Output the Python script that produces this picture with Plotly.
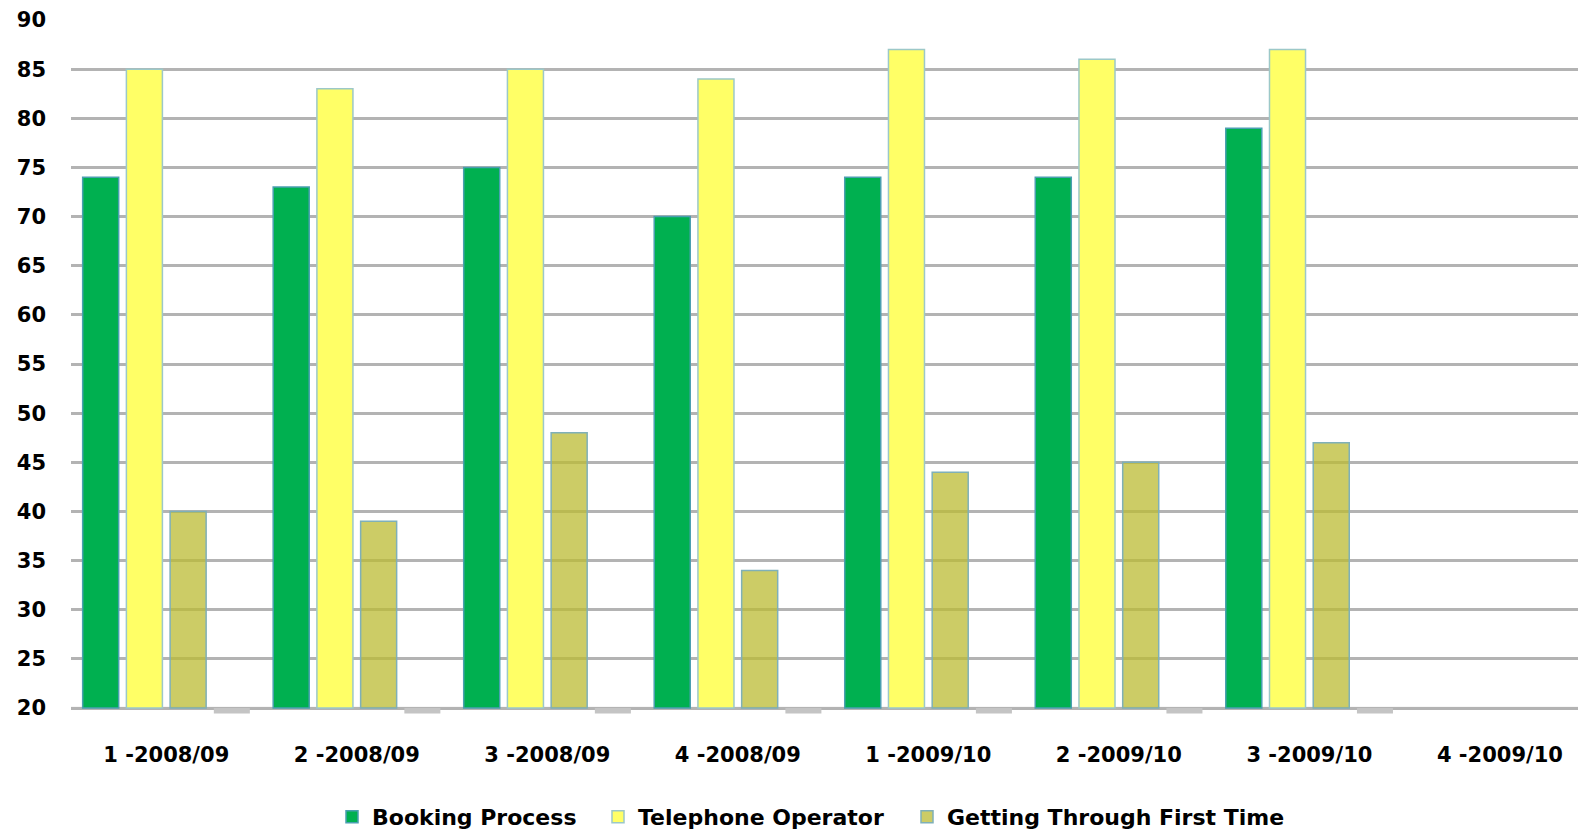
import plotly.graph_objects as go

categories = ["1 -2008/09", "2 -2008/09", "3 -2008/09", "4 -2008/09",
              "1 -2009/10", "2 -2009/10", "3 -2009/10", "4 -2009/10"]
booking_process = [74, 73, 75, 70, 74, 74, 79, None]
telephone_operator = [85, 83, 85, 84, 87, 86, 87, None]
getting_through = [40, 39, 48, 34, 44, 45, 47, None]
series4 = [19.45, 19.45, 19.45, 19.45, 19.45, 19.45, 19.45, None]
y_ticks = [20, 25, 30, 35, 40, 45, 50, 55, 60, 65, 70, 75, 80, 85, 90]
axis_min = 20


def from_axis(values):
    # Excel draws bars from the value axis crossing (the axis minimum)
    return [None if v is None else v - axis_min for v in values]


FONT = "DejaVu Sans"

fig = go.Figure()
fig.add_trace(go.Bar(name="Booking Process", x=categories, y=from_axis(booking_process),
                     base=axis_min, legend="legend",
                     marker=dict(color="#00b050", line=dict(color="#4a9fb0", width=1.5))))
fig.add_trace(go.Bar(name="Telephone Operator", x=categories, y=from_axis(telephone_operator),
                     base=axis_min, legend="legend2",
                     marker=dict(color="#ffff66", line=dict(color="#9cc8c8", width=1.5))))
fig.add_trace(go.Bar(name="Getting Through First Time", x=categories, y=from_axis(getting_through),
                     base=axis_min, legend="legend3",
                     marker=dict(color="rgba(187,187,51,0.75)", line=dict(color="#7fb0b8", width=1.5))))
fig.add_trace(go.Bar(name="Series 4", x=categories, y=from_axis(series4),
                     base=axis_min, showlegend=False,
                     marker=dict(color="#c4c4c4", line=dict(width=0))))

legend_common = dict(orientation="h", xref="container", yref="container",
                     xanchor="left", y=0.0204, yanchor="middle",
                     bgcolor="rgba(0,0,0,0)",
                     font=dict(family=FONT, size=22, weight="bold", color="black"))

fig.update_layout(
    width=1578, height=834,
    margin=dict(l=71, r=0, t=20, b=120),
    paper_bgcolor="white", plot_bgcolor="white",
    barmode="group", bargap=0.082, bargroupgap=0.176,
    font=dict(family=FONT, color="black", size=21, weight="bold"),
    legend=dict(legend_common, x=332 / 1578),
    legend2=dict(legend_common, x=598 / 1578),
    legend3=dict(legend_common, x=907 / 1578),
    xaxis=dict(range=[-0.5, 7.41], showgrid=False, ticks="", showline=False,
               tickfont=dict(family=FONT, size=21, weight="bold", color="black"),
               ticklabelstandoff=26),
    yaxis=dict(range=[19.4, 90], tickvals=y_ticks, showgrid=True,
               gridcolor="#b3b3b3", gridwidth=3, zeroline=False, ticks="",
               tickfont=dict(family=FONT, size=21, weight="bold", color="black"),
               ticklabelstandoff=24),
    shapes=[dict(type="line", xref="paper", yref="y", x0=0, x1=1,
                 y0=axis_min, y1=axis_min, layer="below",
                 line=dict(color="#f0f0f0", width=3))],
)

fig.write_html("out.html")
